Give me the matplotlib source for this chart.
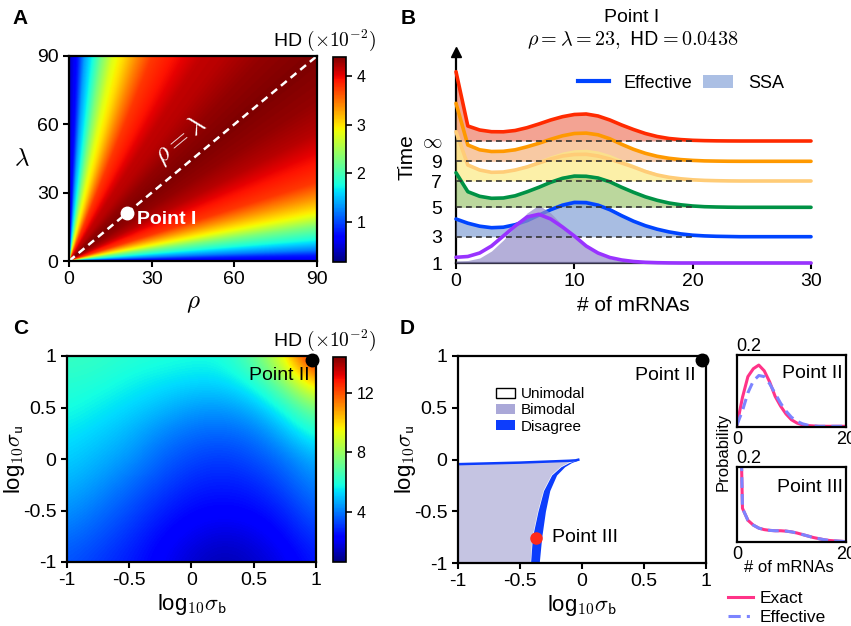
import numpy as np
import matplotlib
matplotlib.use("Agg")
import matplotlib.pyplot as plt
from matplotlib.patches import Patch
from matplotlib.lines import Line2D

plt.rcParams['font.family'] = ['Liberation Sans', 'DejaVu Sans']
plt.rcParams['mathtext.fontset'] = 'cm'
plt.rcParams['axes.unicode_minus'] = False
plt.rcParams['axes.linewidth'] = 1.6

# ---------------- data ----------------
# A: HD (x1e-2) against the angle of (rho, lambda) from the rho axis
angle_deg = [0, 1.5, 3, 6, 9.5, 12.5, 17, 21, 27, 32, 38, 45, 52, 58, 62, 66,
             71.5, 74.5, 77.5, 80, 82.5, 84.5, 86.5, 88, 90]
hd_angle = [0.60, 0.81, 1.23, 1.78, 2.29, 2.83, 3.34, 3.76, 3.97, 4.18, 4.31, 4.39,
            4.31, 4.18, 4.14, 3.97, 3.76, 3.42, 3.04, 2.79, 2.29, 1.78, 1.36, 0.81, 0.39]
point1 = (21, 21)

# B: ridge heights of the mRNA distributions, n = 0..30
n_b = np.arange(31)
time_labels = [r'$\infty$', '9', '7', '5', '3', '1']
time_offsets = [122, 101.7, 82, 55.7, 26.3, 0]
eff_inf = [69.3, 15.0, 11.0, 9.3, 9.2, 10.5, 13.3, 17.0, 21.0, 24.3, 26.5, 27.0, 25.0, 21.0, 16.0, 11.5,
           7.5, 4.5, 2.5, 1.4, 0.7, 0.35, 0.15, 0.05, 0, 0, 0, 0, 0, 0, 0]
eff_9 = [58.0, 16.3, 11.5, 9.8, 10.0, 11.5, 14.5, 18.0, 22.0, 25.5, 27.8, 28.2, 26.5, 22.5, 17.0, 12.0,
         8.0, 5.0, 3.0, 1.7, 0.9, 0.4, 0.2, 0.05, 0, 0, 0, 0, 0, 0, 0]
eff_7 = [49.3, 16.0, 11.0, 8.7, 9.0, 11.0, 14.0, 18.0, 22.0, 25.0, 26.5, 26.7, 25.0, 22.0, 18.0, 14.0,
         9.5, 6.0, 3.7, 2.2, 1.2, 0.6, 0.3, 0.1, 0, 0, 0, 0, 0, 0, 0]
eff_5 = [34.6, 15.6, 11.0, 9.0, 9.3, 11.5, 15.5, 20.0, 25.0, 29.0, 31.2, 31.0, 29.3, 25.5, 20.0, 15.0,
         10.5, 7.0, 4.3, 2.5, 1.3, 0.6, 0.3, 0.1, 0, 0, 0, 0, 0, 0, 0]
eff_3 = [17.7, 13.5, 10.5, 9.0, 9.5, 12.0, 16.0, 21.5, 27.0, 31.5, 34.2, 34.0, 31.5, 27.0, 21.0, 15.5,
         11.0, 7.5, 4.8, 2.8, 1.5, 0.8, 0.4, 0.2, 0, 0, 0, 0, 0, 0, 0]
eff_1 = [5.7, 6.5, 10.0, 17.0, 27.0, 37.0, 46.0, 48.7, 44.0, 36.0, 27.0, 17.0, 10.0, 5.5, 3.0, 1.5,
         0.7, 0.3, 0.1, 0, 0, 0, 0, 0, 0, 0, 0, 0, 0, 0, 0]
ssa_inf = [69.3, 15.5, 11.5, 9.8, 9.8, 11.2, 14.0, 18.0, 22.0, 25.5, 27.8, 28.0, 26.0, 22.0, 17.0, 12.0,
           8.0, 4.8, 2.7, 1.5, 0.8, 0.4, 0.2, 0.05, 0, 0, 0, 0, 0, 0, 0]
ssa_9 = [58.0, 16.8, 12.0, 10.3, 10.5, 12.0, 15.2, 18.8, 23.0, 26.5, 28.8, 29.0, 27.2, 23.2, 17.6, 12.5,
         8.3, 5.2, 3.1, 1.8, 0.9, 0.4, 0.2, 0.05, 0, 0, 0, 0, 0, 0, 0]
ssa_7 = [49.3, 17.0, 12.0, 10.0, 10.5, 12.8, 16.3, 20.8, 25.3, 29.0, 31.3, 31.8, 30.0, 26.5, 21.5, 16.5,
         11.8, 7.8, 4.8, 2.8, 1.5, 0.7, 0.3, 0.1, 0, 0, 0, 0, 0, 0, 0]
ssa_5 = [34.6, 16.0, 11.5, 9.7, 10.2, 12.5, 16.8, 21.5, 26.8, 31.0, 33.2, 33.0, 31.0, 27.0, 21.3, 16.0,
         11.2, 7.4, 4.5, 2.6, 1.4, 0.7, 0.3, 0.1, 0, 0, 0, 0, 0, 0, 0]
ssa_3 = [17.0, 13.5, 11.0, 9.8, 10.5, 13.2, 17.5, 23.5, 29.5, 34.3, 37.0, 36.8, 34.0, 29.0, 22.5, 16.5,
         11.5, 7.8, 5.0, 2.9, 1.6, 0.8, 0.4, 0.2, 0, 0, 0, 0, 0, 0, 0]
ssa_1 = [2.0, 2.5, 5.0, 12.0, 23.0, 36.0, 50.0, 58.0, 50.0, 38.0, 27.0, 17.0, 9.0, 4.5, 2.0, 1.0,
         0.4, 0.1, 0, 0, 0, 0, 0, 0, 0, 0, 0, 0, 0, 0, 0]
line_colors = ['#ff2a00', '#ff9900', '#ffcc77', '#009245', '#0044ff', '#9933ff']
fill_colors = ['#ef7d66', '#f6b27d', '#fcea83', '#9fc774', '#84a1d7', '#948ec9']

# C: HD (x1e-2) on a grid of log10 sigma_b (columns) and log10 sigma_u (rows, bottom->top)
hd_c = [
    [3.5, 3.1, 2.7, 2.2, 1.6, 1.2, 1.5, 2.0, 2.7],
    [3.9, 3.5, 3.0, 2.4, 2.0, 1.7, 1.9, 2.4, 3.1],
    [4.4, 3.9, 3.4, 2.8, 2.4, 2.3, 2.4, 2.8, 3.7],
    [4.8, 4.4, 3.8, 3.3, 2.8, 2.7, 2.8, 3.4, 4.2],
    [5.2, 4.8, 4.4, 3.7, 3.3, 3.1, 3.4, 3.9, 4.8],
    [5.5, 5.2, 4.8, 4.2, 3.8, 3.7, 3.9, 4.8, 6.0],
    [5.9, 5.6, 5.3, 4.9, 4.5, 4.4, 4.8, 5.9, 7.6],
    [6.1, 6.0, 5.7, 5.5, 5.3, 5.3, 5.9, 7.6, 10.6],
    [6.4, 6.3, 6.1, 6.0, 5.9, 5.9, 7.0, 9.6, 14.2],
]
point2 = (0.965, 0.965)

# D: bimodal region and disagreement band
top_x = [-1.0, -0.5, -0.1, -0.05, -0.03]
top_y = [-0.045, -0.03, -0.012, -0.008, -0.002]
band_y = [-1.0, -0.75, -0.5, -0.3, -0.15, -0.07, -0.03, -0.005]
band_inner = [-0.415, -0.40, -0.355, -0.31, -0.245, -0.17, -0.105, -0.045]
band_outer = [-0.345, -0.325, -0.295, -0.26, -0.205, -0.14, -0.085, -0.03]
point3 = (-0.37, -0.755)

# D insets: distributions, n = 0..20
n_d = np.arange(21)
exact_II = [0.006, 0.082, 0.14, 0.162, 0.172, 0.156, 0.125, 0.085, 0.058, 0.036, 0.02, 0.011,
            0.006, 0.004, 0.003, 0.002, 0.002, 0.002, 0.002, 0.002, 0.002]
eff_II = [0.006, 0.045, 0.095, 0.128, 0.143, 0.14, 0.12, 0.093, 0.066, 0.044, 0.027, 0.016,
          0.009, 0.005, 0.003, 0.002, 0.002, 0.002, 0.002, 0.002, 0.002]
exact_III = [0.8, 0.09, 0.058, 0.045, 0.037, 0.033, 0.031, 0.03, 0.03, 0.029, 0.027, 0.024,
             0.02, 0.016, 0.012, 0.009, 0.006, 0.004, 0.003, 0.002, 0.001]
eff_III = [0.8, 0.09, 0.058, 0.045, 0.037, 0.033, 0.031, 0.03, 0.03, 0.029, 0.027, 0.024,
           0.02, 0.016, 0.012, 0.009, 0.006, 0.004, 0.003, 0.002, 0.001]

# ---------------- layout ----------------
W, H = 851, 626
fig = plt.figure(figsize=(W / 100, H / 100), dpi=100)


def px_axes(l, t, r, b):
    return fig.add_axes([l / W, 1 - b / H, (r - l) / W, (b - t) / H])


def style(ax, size=14):
    ax.tick_params(direction='out', length=4, width=1.5, labelsize=size)
    for s in ax.spines.values():
        s.set_linewidth(1.6)


def ftext(x, y, s, **kw):
    fig.text(x / W, 1 - y / H, s, **kw)


# ---- A ----
axA = px_axes(69, 56, 317, 261)
g = np.linspace(0, 90, 400)
X, Y = np.meshgrid(g, g)
theta = np.degrees(np.arctan2(Y, X))
imA = axA.imshow(np.interp(theta, angle_deg, hd_angle), origin='lower', extent=[0, 90, 0, 90],
                 cmap='jet', vmin=0.18, vmax=4.39, aspect='auto', interpolation='bilinear')
axA.plot([0, 90], [0, 90], color='white', ls=(0, (3, 2)), lw=1.8)
axA.plot(*point1, 'o', color='white', ms=9)
axA.text(24.5, 18, 'Point I', color='white', fontweight='bold', fontsize=14, va='center')
axA.text(40.5, 53, r'$\rho=\lambda$', color='white', fontsize=19, rotation=39.6,
         ha='center', va='center', rotation_mode='anchor')
axA.set_xlim(0, 90)
axA.set_ylim(0, 90)
axA.set_xticks([0, 30, 60, 90])
axA.set_yticks([0, 30, 60, 90])
style(axA)
axA.set_xlabel(r'$\rho$', fontsize=18, labelpad=2)
axA.set_ylabel(r'$\lambda$', fontsize=18, rotation=0, va='center')
axA.yaxis.set_label_coords(-0.19, 0.5)

caxA = px_axes(333, 57, 346, 262)
cbA = fig.colorbar(imA, cax=caxA, ticks=[1, 2, 3, 4])
cbA.ax.tick_params(labelsize=11.5, width=1.2, length=4)
cbA.outline.set_linewidth(1.2)
ftext(324, 40, r'HD $(\times10^{-2})$', ha='center', va='center', fontsize=14)

# ---- B ----
axB = px_axes(456, 52, 811, 263)
effs = [eff_inf, eff_9, eff_7, eff_5, eff_3, eff_1]
ssas = [ssa_inf, ssa_9, ssa_7, ssa_5, ssa_3, ssa_1]
for i, (eff, ssa, off) in enumerate(zip(effs, ssas, time_offsets)):
    axB.fill_between(n_b, off, off + np.array(ssa), color=fill_colors[i], alpha=0.7, lw=0,
                     zorder=2 + 2 * i)
    axB.plot(n_b, off + np.array(eff), color=line_colors[i], lw=2.6, zorder=3 + 2 * i,
             solid_capstyle='round', clip_on=False)
for off in time_offsets[:-1]:
    axB.plot([0, 20], [off, off], color='#333333', ls=(0, (3.5, 2.5)), lw=1.2, zorder=12.5)
axB.set_xlim(0, 30)
axB.set_ylim(0, 211)
axB.spines['top'].set_visible(False)
axB.spines['right'].set_visible(False)
style(axB)
axB.set_xticks([0, 10, 20, 30])
axB.set_yticks(time_offsets)
axB.set_yticklabels(time_labels)
axB.tick_params(axis='y', length=0, pad=10)
axB.plot(0, 1, marker='^', color='k', ms=7, transform=axB.transAxes, clip_on=False)
axB.set_xlabel('# of mRNAs', fontsize=15)
axB.set_ylabel('Time', fontsize=15)
axB.yaxis.set_label_coords(-0.11, 0.5)
ftext(632, 17, 'Point I', ha='center', va='center', fontsize=14)
ftext(633, 40, r'$\rho=\lambda=23,\ \mathsf{HD}=0.0438$', ha='center', va='center', fontsize=14.5)
fig.legend(handles=[Line2D([], [], color='#0044ff', lw=3), Patch(color='#abbfe4', lw=0)],
           labels=['Effective', 'SSA'], loc='center left', bbox_to_anchor=(578 / W, 1 - 83 / H),
           ncol=2, frameon=False, fontsize=13, handlelength=1.7, handletextpad=0.8,
           columnspacing=0.6, borderpad=0, borderaxespad=0)

# ---- C ----
axC = px_axes(67, 356, 316, 562)
imC = axC.imshow(hd_c, origin='lower', extent=[-1.125, 1.125, -1.125, 1.125], cmap='jet',
                 vmin=0.64, vmax=14.4, interpolation='bicubic', aspect='auto')
axC.set_xlim(-1, 1)
axC.set_ylim(-1, 1)
axC.plot(*point2, 'o', color='k', ms=9, clip_on=False)
axC.text(0.948, 0.815, 'Point II', ha='right', va='center', fontsize=14)
ticks = [-1, -0.5, 0, 0.5, 1]
tlabels = ['-1', '-0.5', '0', '0.5', '1']
axC.set_xticks(ticks)
axC.set_xticklabels(tlabels)
axC.set_yticks(ticks)
axC.set_yticklabels(tlabels)
style(axC)
axC.set_xlabel(r'log$_{10}\sigma_{\mathsf{b}}$', fontsize=16, labelpad=2)
axC.set_ylabel(r'log$_{10}\sigma_{\mathsf{u}}$', fontsize=16)
axC.yaxis.set_label_coords(-0.16, 0.5)

caxC = px_axes(333, 357, 346, 562)
cbC = fig.colorbar(imC, cax=caxC, ticks=[4, 8, 12])
cbC.ax.tick_params(labelsize=11.5, width=1.2, length=4)
cbC.outline.set_linewidth(1.2)
ftext(324, 340, r'HD $(\times10^{-2})$', ha='center', va='center', fontsize=14)

# ---- D ----
blue = '#0d3dfc'
axD = px_axes(458, 356, 706, 563)
bim_x = [-1.0] + top_x[:-1] + band_inner[::-1]
bim_y = [-1.0] + top_y[:-1] + band_y[::-1]
axD.fill(bim_x, bim_y, color='#c5c4e2', lw=0)
axD.fill_betweenx(band_y, band_inner, band_outer, color=blue, lw=0)
axD.plot(top_x, top_y, color=blue, lw=1.8)
axD.plot(*point2, 'o', color='k', ms=9, clip_on=False)
axD.text(0.92, 0.81, 'Point II', ha='right', va='center', fontsize=14)
axD.plot(*point3, 'o', color='#ff2a1a', ms=8)
axD.text(-0.245, -0.75, 'Point III', ha='left', va='center', fontsize=14)
axD.set_xlim(-1, 1)
axD.set_ylim(-1, 1)
axD.set_xticks(ticks)
axD.set_xticklabels(tlabels)
axD.set_yticks(ticks)
axD.set_yticklabels(tlabels)
style(axD)
axD.set_xlabel(r'log$_{10}\sigma_{\mathsf{b}}$', fontsize=16, labelpad=2)
axD.set_ylabel(r'log$_{10}\sigma_{\mathsf{u}}$', fontsize=16)
axD.yaxis.set_label_coords(-0.16, 0.5)
fig.legend(handles=[Patch(fc='white', ec='k', lw=1), Patch(fc='#aaa8d8', lw=0), Patch(fc=blue, lw=0)],
           labels=['Unimodal', 'Bimodal', 'Disagree'], loc='upper left',
           bbox_to_anchor=(496 / W, 1 - 387 / H), frameon=False, fontsize=11,
           handlelength=1.25, handleheight=0.65, handletextpad=0.37, labelspacing=0.15,
           borderpad=0, borderaxespad=0)

# ---- D insets ----
pink = '#ff3388'
lav = '#7c84ff'
ins = [(px_axes(737, 355, 846, 427), exact_II, eff_II, 'Point II', 0.75),
       (px_axes(737, 467, 846, 542), exact_III, eff_III, 'Point III', 0.72)]
for ax, ex, ef, name, ty in ins:
    ax.plot(n_d, ex, color=pink, lw=2.2)
    ax.plot(n_d, ef, color=lav, lw=2.2, ls=(0, (3.5, 2)))
    ax.set_xlim(0, 20)
    ax.set_ylim(0, 0.2)
    ax.set_xticks([0, 20])
    ax.set_xticklabels(['0', '20'])
    ax.set_yticks([])
    style(ax, 13)
    ax.tick_params(length=0, pad=3)
    ax.text(0.11, 1.0, '0.2', transform=ax.transAxes, ha='center', va='bottom', fontsize=13)
    ax.text(0.97, ty, name, transform=ax.transAxes, ha='right', va='center', fontsize=14)
ftext(723, 452, 'Probability', rotation=90, ha='center', va='center', fontsize=12)
ftext(789, 568, '# of mRNAs', ha='center', va='center', fontsize=12)
fig.legend(handles=[Line2D([], [], color=pink, lw=2.2),
                    Line2D([], [], color=lav, lw=2.2, ls=(0, (4, 2, 1, 2)))],
           labels=['Exact', 'Effective'], loc='upper left', bbox_to_anchor=(728 / W, 1 - 591 / H),
           frameon=False, fontsize=12.5, handlelength=1.45, handletextpad=0.4, labelspacing=0.2,
           borderpad=0, borderaxespad=0)

# panel letters
for letter, x, y in [('A', 20, 18), ('B', 408, 18), ('C', 21, 328), ('D', 407, 328)]:
    ftext(x, y, letter, fontweight='bold', fontsize=15, ha='center', va='center')

fig.savefig('out.png', dpi=100)
